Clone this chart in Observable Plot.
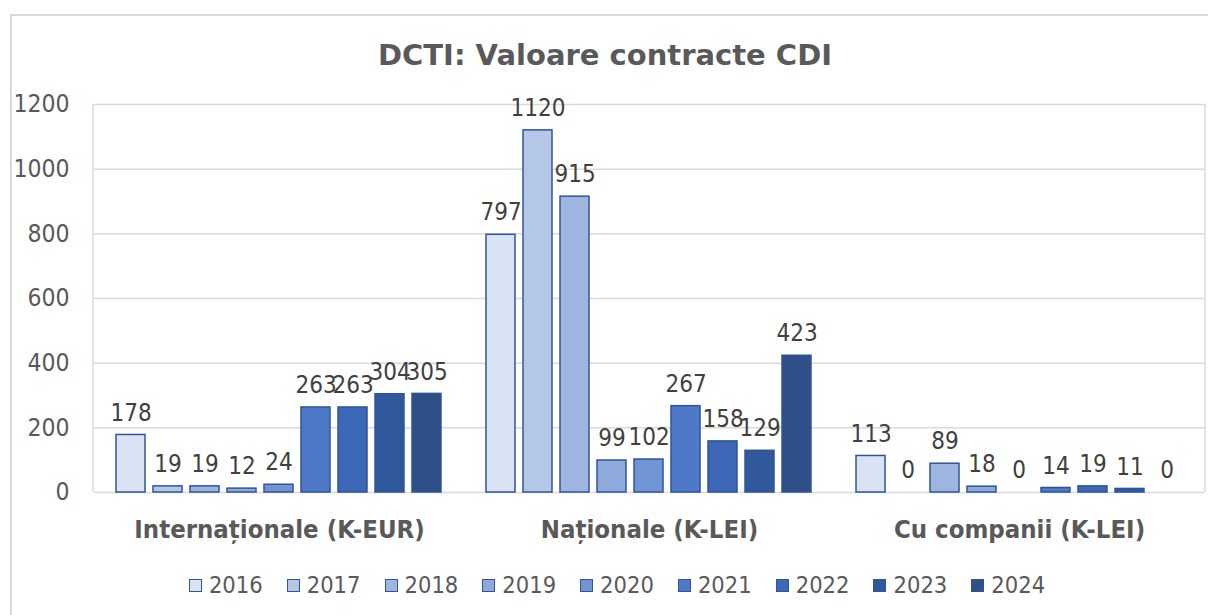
<!DOCTYPE html>
<html>
<head>
<meta charset="utf-8">
<script src="https://cdn.jsdelivr.net/npm/d3@7"></script>
<script src="https://cdn.jsdelivr.net/npm/@observablehq/plot@0.6"></script>
<style>
  body { margin:0; width:1208px; height:615px; overflow:hidden; background:#fff;
         font-family:"DejaVu Sans Condensed","DejaVu Sans",sans-serif; }
  #frame { position:absolute; left:10px; top:14px; width:1400px; height:800px;
           border:2px solid #d9d9d9; box-sizing:border-box; }
  #title { position:absolute; left:0; width:1210px; top:39px; line-height:32px; text-align:center;
           font-family:"DejaVu Sans",sans-serif; font-weight:bold; font-size:29px; color:#595959; }
  #chart { position:absolute; left:0; top:80px; }
  #legend { position:absolute; left:13px; width:1208px; top:571px; line-height:28px;
            display:flex; justify-content:center; gap:24px; font-size:23.5px; color:#595959; }
  .item { display:flex; align-items:center; gap:7px; }
  .sw { width:13px; height:13px; box-sizing:border-box; border:1.5px solid #2f5597; }
</style>
</head>
<body>
<div id="frame"></div>
<div id="title">DCTI: Valoare contracte CDI</div>
<div id="chart"></div>
<div id="legend"></div>
<script>
const categories = ["Internaționale (K-EUR)", "Naționale (K-LEI)", "Cu companii (K-LEI)"];
const years = ["2016","2017","2018","2019","2020","2021","2022","2023","2024"];
const internationale = [178, 19, 19, 12, 24, 263, 263, 304, 305];
const nationale = [797, 1120, 915, 99, 102, 267, 158, 129, 423];
const cuCompanii = [113, 0, 89, 18, 0, 14, 19, 11, 0];
const yTicks = [0, 200, 400, 600, 800, 1000, 1200];
const colors = ["#dae3f3","#b4c7e7","#9db5df","#8eaadc","#7094d4","#4e79c6","#3d68b8","#30599d","#2e4f88"];

const series = [internationale, nationale, cuCompanii];
const data = [];
categories.forEach((c, i) => years.forEach((y, j) => data.push({cat: c, year: y, value: series[i][j]})));

const chart = Plot.plot({
  width: 1208, height: 470,
  marginTop: 24, marginBottom: 58, marginLeft: 93, marginRight: 3,
  style: {fontFamily: '"DejaVu Sans Condensed","DejaVu Sans",sans-serif', fontSize: "24.5px", color: "#595959", background: "transparent", overflow: "visible"},
  fx: {domain: categories, padding: 0, label: null, tickSize: 0, tickPadding: 27, axis: "bottom"},
  x: {domain: years, paddingInner: 0.21, paddingOuter: 0.56, axis: null},
  y: {domain: [0, 1200], ticks: yTicks, label: null, tickSize: 0, tickPadding: 25, tickFormat: d => String(d)},
  color: {domain: years, range: colors},
  marks: [
    Plot.ruleY(yTicks, {stroke: "#d9d9d9", strokeWidth: 1.5}),
    Plot.barY(data.filter(d => d.value > 0), {fx: "cat", x: "year", y: "value", fill: "year", stroke: "#2f5597", strokeWidth: 1.5}),
    Plot.text(data, {fx: "cat", x: "year", y: "value", text: d => String(d.value), dy: -22, fill: "#404040", fontSize: 24})
  ]
});
document.getElementById("chart").appendChild(chart);

// plot-area side edges from the scales
const fxr = chart.scale("fx").range, yr = chart.scale("y").range;
const svg = d3.select(chart);
[fxr[0], fxr[1]].forEach(xv => {
  svg.append("line").attr("x1", xv).attr("x2", xv).attr("y1", yr[0]).attr("y2", yr[1])
    .attr("stroke", "#d9d9d9").attr("stroke-width", 1.5);
});
svg.selectAll('g[aria-label="fx-axis tick label"] text, g[aria-label="fx-axis"] text')
  .attr("font-weight", "bold").attr("font-size", 25.5).attr("fill", "#595959");

const legend = d3.select("#legend");
years.forEach((y, i) => {
  const it = legend.append("div").attr("class", "item");
  it.append("div").attr("class", "sw").style("background", colors[i]);
  it.append("span").text(y);
});
</script>
</body>
</html>
